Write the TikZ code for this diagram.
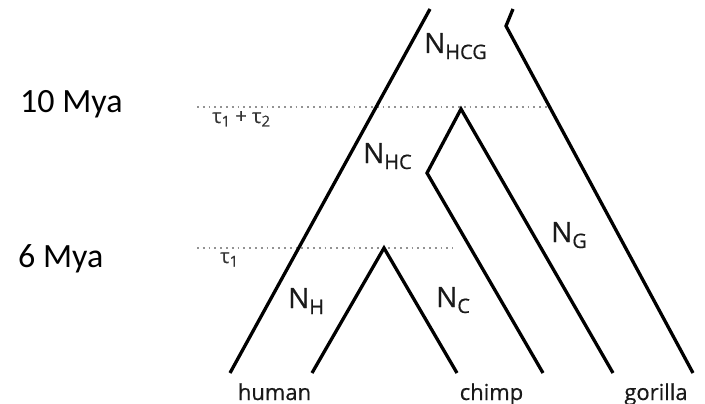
\documentclass[tikz,border=0pt]{standalone}
\usepackage{fontspec}
\setmainfont[FakeBold=0.6,AutoFakeBold=0.6]{Open Sans}
\newfontfamily\calib{Carlito}
\newfontfamily\labfont[FakeBold=0.5]{Open Sans}
\newcommand{\Nlab}[1]{N\raisebox{-6pt}{\fontsize{20}{20}\selectfont #1}}
\newcommand{\taulab}[1]{τ\raisebox{-3.5pt}{\fontsize{15}{15}\selectfont #1}}
\begin{document}
\begin{tikzpicture}[x=1pt,y=-1pt,
  branch/.style={line width=3.3pt, line join=miter, black},
  timeline/.style={line width=1.8pt, gray!85, dash pattern=on 1.8pt off 4pt},
  nlab/.style={anchor=base west, inner sep=0pt, text=black!90, font=\labfont\fontsize{28}{28}\selectfont},
  leaf/.style={anchor=base, inner sep=0pt, text=black!90, font=\labfont\fontsize{22}{22}\selectfont},
  taustyle/.style={anchor=base west, inner sep=0pt, text=black!80, font=\labfont\fontsize{20}{20}\selectfont},
  mya/.style={anchor=base west, inner sep=0pt, font=\calib\fontsize{34}{34}\selectfont}]
\useasboundingbox (0,0) rectangle (705,404);
% coordinates
\coordinate (Ltop) at (430,9);
\coordinate (Lbot) at (230,373);
\coordinate (Gtop) at (513,9);
\coordinate (Gkink) at (506,26);
\coordinate (Gbot) at (693,373);
\coordinate (HCapex) at (461,109);
\coordinate (HCkink) at (427,173);
\coordinate (HCbotL) at (543,373);
\coordinate (HCbotR) at (613,373);
\coordinate (Hapex) at (384,248);
\coordinate (HbotL) at (312,373);
\coordinate (HbotR) at (457,373);
\coordinate (D1a) at (197,107);
\coordinate (D1b) at (547,107);
\coordinate (D2a) at (197,248);
\coordinate (D2b) at (453,248);
% time lines
\draw[timeline] (D1a) -- (D1b);
\draw[timeline] (D2a) -- (D2b);
% branches
\draw[branch] (Ltop) -- (Lbot);
\draw[branch] (Gtop) -- (Gkink) -- (Gbot);
\draw[branch] (HCbotL) -- (HCkink) -- (HCapex) -- (HCbotR);
\draw[branch] (HbotL) -- (Hapex) -- (HbotR);
% labels
\node[nlab] (nhcg) at (424,53) {\Nlab{HCG}};
\node[nlab] (nhc) at (363,163) {\Nlab{HC}};
\node[nlab] (nh) at (288,308) {\Nlab{H}};
\node[nlab] (nc) at (436,307) {\Nlab{C}};
\node[nlab] (ng) at (551,242) {\Nlab{G}};
\node[leaf] (human) at (274.5,400) {human};
\node[leaf] (chimp) at (491.5,400) {chimp};
\node[leaf] (gorilla) at (656,400) {gorilla};
\node[taustyle] (t12) at (212,123) {\taulab{1} + \taulab{2}};
\node[taustyle] (t1) at (220,263) {\taulab{1}};
\node[mya] (m10) at (20,113) {10 Mya};
\node[mya] (m6) at (18,267) {6 Mya};
\end{tikzpicture}
\end{document}
